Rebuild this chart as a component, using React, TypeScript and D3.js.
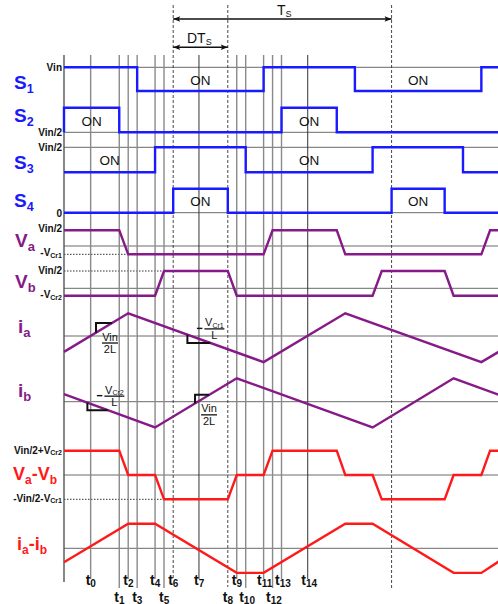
import React from 'react';
import * as d3 from 'd3';

// time unit: Ts = 100
const eventNames = ['0', '1', '2', '3', '4', '5', '6', '7', '8', '9', '10', '11', '12', '13', '14'];
const eventTimes = [12.2, 25.3, 29.4, 33.5, 41.7, 45.8, 50, 61.8, 75, 79.1, 83.2, 91.4, 95.5, 99.6, 111.6];
const eventLower = [0, 1, 0, 1, 0, 1, 0, 0, 1, 0, 1, 0, 1, 0, 0];
const periodEnd = 150;

// gate signals (1 = upper level)
const s1 = [[0, 1], [33.5, 1], [33.5, 0], [91.4, 0], [91.4, 1], [133.2, 1], [133.2, 0], [191.1, 0], [191.1, 1], [199, 1]];
const s2 = [[0, 0], [0, 1], [25.3, 1], [25.3, 0], [99.6, 0], [99.6, 1], [124.9, 1], [124.9, 0], [199, 0]];
const s3 = [[0, 0], [41.7, 0], [41.7, 1], [83.2, 1], [83.2, 0], [141.3, 0], [141.3, 1], [182.7, 1], [182.7, 0], [199, 0]];
const s4 = [[0, 0], [50, 0], [50, 1], [75, 1], [75, 0], [150, 0], [150, 1], [174.3, 1], [174.3, 0], [199, 0]];

const s1On = [[33.5, 91.4], [133.2, 191.1]];
const s2On = [[0, 25.3], [99.6, 124.9]];
const s3On = [[0, 41.7], [83.2, 141.3]];
const s4On = [[50, 75], [150, 174.3]];

// voltages (Vin/2 = 1)
const va = [[0, 1], [25.3, 1], [29.4, -0.53], [91.4, -0.53], [95.5, 1], [124.9, 1], [128.8, -0.53], [191.1, -0.53], [195.1, 1], [199, 1]];
const vb = [[0, -0.43], [41.7, -0.43], [45.8, 1], [75, 1], [79.1, -0.43], [141.3, -0.43], [145.5, 1], [174.3, 1], [178.4, -0.43], [199, -0.43]];
const vab = [[0, 1], [25.3, 1], [29.4, 0], [41.7, 0], [45.8, -1], [75, -1], [79.1, 0], [91.4, 0], [95.5, 1], [124.9, 1], [128.8, 0], [141.3, 0], [145.5, -1], [174.3, -1], [178.4, 0], [191.1, 0], [195.1, 1], [199, 1]];

// currents
const ia = [[0, -0.7], [29.4, 1], [91.4, -1.15], [128.8, 1], [191.1, -1.15], [199, -0.7]];
const ib = [[0, 0.32], [41.7, -1.1], [79.1, 1], [141.3, -1.1], [178.4, 1], [199, 0.3]];
const iab = [[0, -0.57], [29.4, 1], [41.7, 1], [79.1, -1], [91.4, -1], [128.8, 1], [141.3, 1], [178.4, -1], [191.1, -1], [199, -0.54]];

const blue = '#1a1aff';
const purple = '#861a88';
const red = '#ff1a1a';
const font = 'Arial, "Liberation Sans", sans-serif';

const x = d3.scaleLinear().domain([0, 199]).range([64, 498.6]);
const y = {
  s1: d3.scaleLinear().domain([0, 1]).range([91, 67.3]),
  s2: d3.scaleLinear().domain([0, 1]).range([132.3, 107.7]),
  s3: d3.scaleLinear().domain([0, 1]).range([172.3, 147.3]),
  s4: d3.scaleLinear().domain([0, 1]).range([212.7, 188.7]),
  va: d3.scaleLinear().domain([0, 1]).range([246, 230.3]),
  vb: d3.scaleLinear().domain([0, 1]).range([288.3, 271]),
  ia: d3.scaleLinear().domain([0, 1]).range([336, 313.3]),
  ib: d3.scaleLinear().domain([0, 1]).range([401.7, 378.3]),
  vab: d3.scaleLinear().domain([0, 1]).range([475, 450.7]),
  iab: d3.scaleLinear().domain([0, 1]).range([548.3, 523.7]),
};

const waves = [
  { key: 's1', data: s1, color: blue },
  { key: 's2', data: s2, color: blue },
  { key: 's3', data: s3, color: blue },
  { key: 's4', data: s4, color: blue },
  { key: 'va', data: va, color: purple },
  { key: 'vb', data: vb, color: purple },
  { key: 'ia', data: ia, color: purple },
  { key: 'ib', data: ib, color: purple },
  { key: 'vab', data: vab, color: red },
  { key: 'iab', data: iab, color: red },
];

const onLabels = [
  { key: 's1', spans: s1On },
  { key: 's2', spans: s2On },
  { key: 's3', spans: s3On },
  { key: 's4', spans: s4On },
];

const gridLines = [
  ['s1', 1], ['s2', 0], ['s3', 1], ['s4', 0], ['va', 0], ['vb', 0],
  ['ia', 0], ['ib', 0], ['vab', 0], ['iab', 0],
];
// dotted reference levels: row, level, time where the trace reaches it
const refLines = [['va', -0.53, 29.4], ['vb', 1, 45.8], ['vab', -1, 45.8]];

const slopeMarks = [
  { wave: 'ia', data: ia, t0: 14.65, t1: 22, num: 'Vin', sub: '', den: '2L', neg: false },
  { wave: 'ib', data: ib, t0: 10.7, t1: 20, num: 'V', sub: 'Cr2', den: 'L', neg: true },
  { wave: 'ia', data: ia, t0: 56.5, t1: 67, num: 'V', sub: 'Cr1', den: 'L', neg: true },
  { wave: 'ib', data: ib, t0: 60, t1: 66.5, num: 'Vin', sub: '', den: '2L', neg: false },
];

function valueAt(pts: number[][], t: number) {
  const i = d3.bisector((d: number[]) => d[0]).right(pts, t);
  const a = pts[Math.max(0, i - 1)], b = pts[Math.min(pts.length - 1, i)];
  if (b[0] === a[0]) return a[1];
  return a[1] + (b[1] - a[1]) * (t - a[0]) / (b[0] - a[0]);
}

function Lbl({ x, y, main, sub, size, subSize, fill, anchor = 'start', weight = 'bold', drop = 4 }: any) {
  return (
    <text x={x} y={y} fill={fill} fontSize={size} fontWeight={weight} textAnchor={anchor} fontFamily={font}>
      <tspan>{main}</tspan>
      {sub ? <tspan fontSize={subSize} dy={drop}>{sub}</tspan> : null}
    </text>
  );
}

export default function App() {
  const line = (key: string) => d3.line<number[]>().x(d => x(d[0])).y(d => (y as any)[key](d[1]));

  return (
    <svg width={498} height={604} style={{ position: 'absolute', left: 0, top: 0, background: '#fff' }}>
      <defs>
        <marker id="ah" viewBox="0 0 10 10" refX="10" refY="5" markerWidth="9" markerHeight="7" orient="auto-start-reverse" markerUnits="userSpaceOnUse">
          <path d="M0,1 L10,5 L0,9 L2,5 Z" fill="#111" />
        </marker>
      </defs>

      {/* horizontal grid */}
      {gridLines.map(([k, v], i) => (
        <line key={'g' + i} x1={64} x2={498} y1={(y as any)[k](v)} y2={(y as any)[k](v)} stroke="#6a6a6a" strokeWidth={1} />
      ))}
      {refLines.map(([k, v, t], i) => (
        <line key={'r' + i} x1={64} x2={x(t as number)} y1={(y as any)[k](v)} y2={(y as any)[k](v)} stroke="#333" strokeWidth={1} strokeDasharray="1.5,1.5" />
      ))}

      {/* vertical time lines */}
      <line x1={64} x2={64} y1={55} y2={582} stroke="#555" strokeWidth={1.4} />
      {eventTimes.map((t, i) => {
        const dashed = i === 6 || i === 8;
        const dark = i === 7 || i === 14;
        const bottom = eventLower[i] ? 588 : 579;
        return dashed ? (
          <line key={'v' + i} x1={x(t)} x2={x(t)} y1={5} y2={bottom - 1} stroke="#333" strokeWidth={0.9} strokeDasharray="3,2" />
        ) : (
          <line key={'v' + i} x1={x(t)} x2={x(t)} y1={55} y2={bottom} stroke={dark ? '#333' : '#8a8a8a'} strokeWidth={dark ? 1 : 1.4} />
        );
      })}
      <line x1={x(periodEnd)} x2={x(periodEnd)} y1={5} y2={588} stroke="#333" strokeWidth={0.9} strokeDasharray="3,2" />

      {/* period arrows */}
      <line x1={x(eventTimes[6])} x2={x(periodEnd)} y1={19} y2={19} stroke="#111" strokeWidth={1.5} markerStart="url(#ah)" markerEnd="url(#ah)" />
      <line x1={x(eventTimes[6])} x2={x(eventTimes[8])} y1={47.3} y2={47.3} stroke="#111" strokeWidth={1.5} markerStart="url(#ah)" markerEnd="url(#ah)" />
      <Lbl x={277} y={15} main="T" sub="S" size={14} subSize={9} fill="#111" weight="normal" drop={2} />
      <Lbl x={187} y={43} main="DT" sub="S" size={14} subSize={9} fill="#111" weight="normal" drop={2} />

      {/* waveforms */}
      {waves.map(w => (
        <path key={w.key} d={line(w.key)(w.data) || ''} fill="none" stroke={w.color} strokeWidth={2.4} strokeLinejoin="miter" />
      ))}

      {/* ON labels */}
      {onLabels.map(o => o.spans.map((s, i) => {
        const sc = (y as any)[o.key];
        return (
          <text key={o.key + i} x={x((s[0] + s[1]) / 2)} y={(sc(0) + sc(1)) / 2 + 5.5} textAnchor="middle" fontSize={13.5} fontFamily={font} fill="#111">ON</text>
        );
      }))}

      {/* slope brackets */}
      {slopeMarks.map((m, i) => {
        const sc = (y as any)[m.wave];
        const x0 = x(m.t0), x1 = x(m.t1);
        const yA = sc(valueAt(m.data, m.t0)), yB = sc(valueAt(m.data, m.t1));
        const cx = x0, cy = yB;
        const fx = cx + (m.neg ? 27 : 14);
        const by = cy + (m.neg ? -14 : 20);
        const hw = m.neg ? 10 : 8;
        return (
          <g key={'m' + i}>
            <path d={`M${x0},${yA} L${cx},${cy} L${x1},${yB}`} fill="none" stroke="#111" strokeWidth={2} />
            {m.neg ? <line x1={cx + 9.5} x2={cx + 15} y1={cy - 14.5} y2={cy - 14.5} stroke="#111" strokeWidth={1.4} /> : null}
            <line x1={fx - hw} x2={fx + hw} y1={by} y2={by} stroke="#111" strokeWidth={1.3} />
            <Lbl x={fx} y={by - 2.5} main={m.num} sub={m.sub} size={11} subSize={7} fill="#111" anchor="middle" weight="normal" drop={1.5} />
            <text x={fx} y={by + 10} textAnchor="middle" fontSize={11} fontFamily={font} fill="#111">{m.den}</text>
          </g>
        );
      })}

      {/* row names */}
      <Lbl x={14} y={89} main="S" sub="1" size={19} subSize={12.5} fill={blue} />
      <Lbl x={14} y={121.7} main="S" sub="2" size={19} subSize={12.5} fill={blue} />
      <Lbl x={14} y={169.3} main="S" sub="3" size={19} subSize={12.5} fill={blue} />
      <Lbl x={14} y={206.7} main="S" sub="4" size={19} subSize={12.5} fill={blue} />
      <Lbl x={15} y={246.7} main="V" sub="a" size={19} subSize={13} fill={purple} />
      <Lbl x={15} y={288.3} main="V" sub="b" size={19} subSize={13} fill={purple} />
      <Lbl x={18} y={333.3} main="i" sub="a" size={19} subSize={13} fill={purple} />
      <Lbl x={18} y={396.7} main="i" sub="b" size={19} subSize={13} fill={purple} />
      <text x={13} y={480} fill={red} fontSize={18} fontWeight="bold" fontFamily={font}>
        <tspan>V</tspan><tspan fontSize={12} dy={4}>a</tspan><tspan dy={-4}>-V</tspan><tspan fontSize={12} dy={4}>b</tspan>
      </text>
      <text x={17} y={550} fill={red} fontSize={18} fontWeight="bold" fontFamily={font}>
        <tspan>i</tspan><tspan fontSize={12} dy={4}>a</tspan><tspan dy={-4}>-i</tspan><tspan fontSize={12} dy={4}>b</tspan>
      </text>

      {/* level labels */}
      <Lbl x={62} y={70.5} main="Vin" size={10} fill="#111" anchor="end" />
      <Lbl x={62} y={135.5} main="Vin/2" size={10} fill="#111" anchor="end" />
      <Lbl x={62} y={150.5} main="Vin/2" size={10} fill="#111" anchor="end" />
      <Lbl x={62} y={216.5} main="0" size={10} fill="#111" anchor="end" />
      <Lbl x={62} y={232} main="Vin/2" size={10} fill="#111" anchor="end" />
      <Lbl x={62} y={256} main="-V" sub="Cr1" size={10} subSize={7} drop={1.5} fill="#111" anchor="end" />
      <Lbl x={62} y={274} main="Vin/2" size={10} fill="#111" anchor="end" />
      <Lbl x={62} y={298} main="-V" sub="Cr2" size={10} subSize={7} drop={1.5} fill="#111" anchor="end" />
      <Lbl x={62} y={453.5} main="Vin/2+V" sub="Cr2" size={10} subSize={7} drop={1.5} fill="#111" anchor="end" />
      <Lbl x={62} y={501.5} main="-Vin/2-V" sub="Cr1" size={10} subSize={7} drop={1.5} fill="#111" anchor="end" />

      {/* time labels */}
      {eventTimes.map((t, i) => (
        <Lbl key={'t' + i} x={x(t) - (eventNames[i].length > 1 ? 6.5 : 5)} y={eventLower[i] ? 601.5 : 584.5}
          main="t" sub={eventNames[i]} size={14} subSize={10} fill="#111" drop={2} />
      ))}
    </svg>
  );
}
